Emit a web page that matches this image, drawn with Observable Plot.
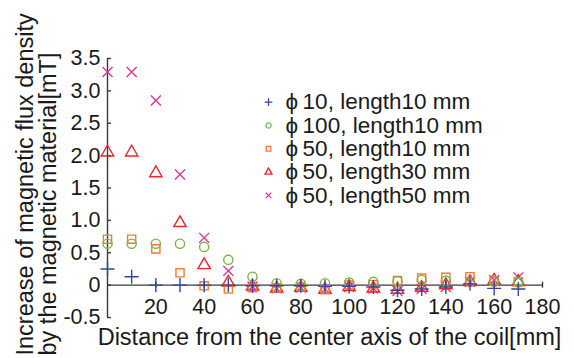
<!DOCTYPE html>
<html><head><meta charset="utf-8">
<script src="https://cdn.jsdelivr.net/npm/d3@7"></script>
<script src="https://cdn.jsdelivr.net/npm/@observablehq/plot@0.6"></script>
<style>body{margin:0;background:#fff}#chart{width:574px;height:358px}</style>
</head><body><div id="chart"></div>
<script>
const distance = [0,10,20,30,40,50,60,70,80,90,100,110,120,130,140,150,160,170];
const seriesNames = ["ϕ\u200910, length10 mm","ϕ\u2009100, length10 mm","ϕ\u200950, length10 mm","ϕ\u200950, length30 mm","ϕ\u200950, length50 mm"];
const phi10_len10  = [0.25,0.13,0.00,0.00,0.00,0.00,-0.01,-0.01,-0.01,-0.02,-0.02,-0.03,-0.08,-0.06,-0.03,0.02,-0.05,-0.06];
const phi100_len10 = [0.64,0.64,0.64,0.64,0.59,0.39,0.13,0.03,0.02,0.03,0.04,0.05,0.06,0.08,0.07,0.05,0.05,0.04];
const phi50_len10  = [0.71,0.71,0.56,0.19,-0.01,-0.06,-0.04,-0.04,-0.03,-0.07,0.00,0.01,0.07,0.11,0.12,0.13,0.06,0.05];
const phi50_len30  = [2.05,2.05,1.73,0.96,0.31,0.04,-0.02,-0.05,-0.04,-0.07,-0.03,-0.05,-0.07,-0.04,0.00,0.05,0.07,0.05];
const phi50_len50  = [3.29,3.29,2.85,1.71,0.73,0.22,-0.02,-0.05,-0.04,-0.06,-0.03,-0.05,-0.09,-0.06,-0.03,0.05,0.08,0.12];
const xTicks = [20,40,60,80,100,120,140,160,180];
const xTickLabels = ["20","40","60","80","100","120","140","160","180"];
const yTicks = [-0.5,0,0.5,1,1.5,2,2.5,3,3.5];
const yTickLabels = ["-0.5","0","0.5","1.0","1.5","2.0","2.5","3.0","3.5"];
const xTitle = "Distance from the center axis of the coil[mm]";
const yTitleLines = ["Increase of magnetic flux density","by the magnetic material[mT]"];

const symbols = ["plus","circle","square","triangle","times"];
const colors = ["#34469a","#7ab648","#ee7d33","#e8262f","#e03590"];

const seriesValues = [phi10_len10, phi100_len10, phi50_len10, phi50_len30, phi50_len50];
const rows = [];
// draw order: times, triangle, square, circle, plus on top
[4,3,2,1,0].forEach(s => distance.forEach((d,i) => rows.push({x:d, y:seriesValues[s][i], series:seriesNames[s]})));

const axisColor = "#3a3a3a";
const textColor = "#1a1a1a";
const font = "'Liberation Sans', Arial, sans-serif";
const legendMarks = [];
seriesNames.forEach((name,i) => {
  legendMarks.push(Plot.dot([name], {frameAnchor:"top-left", dx:161, dy:43.7 + i*23.3, symbol:d=>d, stroke:d=>d, r:2.6, strokeWidth:1.3}));
  legendMarks.push(Plot.text([name], {frameAnchor:"top-left", dx:178, dy:43.7 + i*23.3, text:d=>d, textAnchor:"start", lineAnchor:"middle", fontSize:22.5, fill:textColor}));
});

const chart = Plot.plot({
  width:574, height:358,
  marginLeft:107, marginRight:32, marginTop:58, marginBottom:41,
  style:{fontFamily:font, background:"#fff"},
  x:{domain:[0,180], axis:null},
  y:{domain:[-0.5,3.5], axis:null},
  symbol:{domain:seriesNames, range:symbols},
  color:{domain:seriesNames, range:colors},
  marks:[
    Plot.ruleX([0], {y1:-0.5, y2:3.5, stroke:axisColor, strokeWidth:1.4}),
    Plot.ruleY([0], {x1:0, x2:180, stroke:axisColor, strokeWidth:1.4}),
    Plot.ruleY(yTicks, {y:d=>d, x1:0, x2:0, insetRight:-4, stroke:axisColor, strokeWidth:1.4}),
    Plot.ruleX(xTicks, {x:d=>d, y1:0, y2:0, insetTop:-3, insetBottom:-3, stroke:axisColor, strokeWidth:1.4}),
    Plot.text(yTicks, {x:0, y:d=>d, text:(d,i)=>yTickLabels[i], textAnchor:"end", lineAnchor:"middle", dx:-7, fontSize:21.5, fill:textColor}),
    Plot.text(xTicks, {x:d=>d, y:0, text:(d,i)=>xTickLabels[i], textAnchor:"middle", lineAnchor:"middle", dy:21.5, fontSize:21.5, fill:textColor}),
    Plot.dot(rows, {x:"x", y:"y", symbol:"series", stroke:"series", r:4.6, strokeWidth:1.4}),
    ...legendMarks,
    Plot.text([xTitle], {frameAnchor:"bottom", dx:4.5, dy:20, text:d=>d, textAnchor:"middle", lineAnchor:"middle", fontSize:23.5, fill:textColor}),
    Plot.text([yTitleLines[0]], {frameAnchor:"bottom-left", dx:-82, dy:38, rotate:-90, text:d=>d, textAnchor:"start", lineAnchor:"middle", fontSize:23.5, fill:textColor}),
    Plot.text([yTitleLines[1]], {frameAnchor:"bottom-left", dx:-59, dy:38, rotate:-90, text:d=>d, textAnchor:"start", lineAnchor:"middle", fontSize:23.5, fill:textColor})
  ]
});
document.getElementById("chart").appendChild(chart);
</script></body></html>
